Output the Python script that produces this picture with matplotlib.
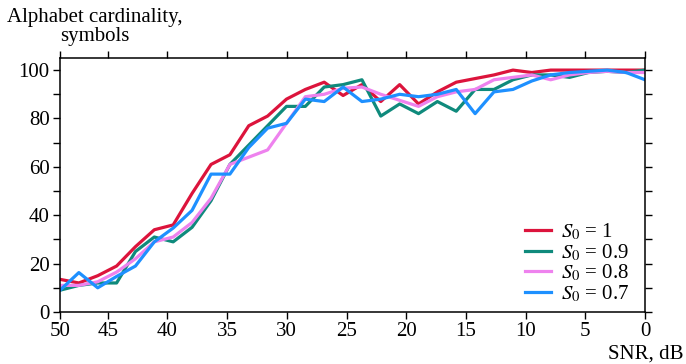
import matplotlib
matplotlib.use("Agg")
import matplotlib.pyplot as plt

plt.rcParams['font.family'] = ['Liberation Serif', 'DejaVu Serif']
plt.rcParams['mathtext.fontset'] = 'stix'

# SNR sample points (dB), left edge of the axis is labelled 50
snr = [49.0, 47.42, 45.84, 44.26, 42.68, 41.10, 39.52, 37.94, 36.35, 34.77,
       33.19, 31.61, 30.03, 28.45, 26.87, 25.29, 23.71, 22.13, 20.55, 18.97,
       17.39, 15.81, 14.23, 12.65, 11.06, 9.48, 7.90, 6.32, 4.74, 3.16, 1.58, 0.0]

s_10 = [13.5, 12, 15, 19, 27, 34, 36, 49, 61, 65, 77, 81, 88, 92, 95, 89.5,
        94, 87, 94, 86, 91, 95, 96.5, 98, 100, 99, 100, 100, 100, 100, 100, 100]
s_09 = [9, 11, 12, 12, 25, 31, 29, 35, 46, 61, 69, 77, 85, 85, 93, 94,
        96, 81, 86, 82, 87, 83, 92, 92, 96, 98, 98, 97, 99, 99.5, 99, 100]
s_08 = [11, 11, 12.5, 16.5, 22, 29, 31, 37, 47, 61, 64, 67, 78, 89, 90, 92.5,
        93, 90, 87.5, 85, 89, 91, 92, 96, 97, 98, 96, 98, 99, 99.5, 99, 99]
s_07 = [9, 16.3, 10, 14.7, 19, 29, 34.7, 42, 57, 57, 68, 76, 78, 88, 87, 93,
        87, 88, 90, 89, 90, 92, 82, 91, 92, 95.5, 98, 99, 99.5, 100, 99, 96]

labels = ['$S_0$ = 1', '$S_0$ = 0.9', '$S_0$ = 0.8', '$S_0$ = 0.7']
colors = ['#dc143c', '#0f8a7c', '#ee82ee', '#1e90ff']

xtick_pos = [49, 45, 40, 35, 30, 25, 20, 15, 10, 5, 0]
xtick_lab = ['50', '45', '40', '35', '30', '25', '20', '15', '10', '5', '0']

fig = plt.figure(figsize=(6.86, 3.64), dpi=100)
ax = fig.add_axes([60/686, 1-312/364, 585/686, 254/364])

for ys, lab, c in zip([s_10, s_09, s_08, s_07], labels, colors):
    ax.plot(snr, ys, color=c, lw=2.3, label=lab)

ax.set_xlim(49, 0)
ax.set_ylim(0, 105)
ax.set_xticks(xtick_pos)
ax.set_xticklabels(xtick_lab)
ax.set_yticks(range(0, 101, 20))
ax.set_yticks(range(0, 101, 10), minor=True)

for sp in ax.spines.values():
    sp.set_linewidth(1.1)
ax.tick_params(which='both', direction='out', length=5, width=1.0,
               top=True, right=True, labelsize=15, pad=2.5)

ax.legend(loc='lower right', bbox_to_anchor=(0.974, 0.03), frameon=False,
          fontsize=15, handlelength=1.25, handletextpad=0.5,
          labelspacing=0.0, borderaxespad=0, borderpad=0)

fig.text(95/686, 1-8/364, 'Alphabet cardinality,\nsymbols', ha='center',
         va='top', fontsize=15, multialignment='center', linespacing=1.0)
fig.text(684/686, 1-359/364, 'SNR, dB', ha='right', va='baseline', fontsize=15)

fig.savefig('out.png', dpi=100)
